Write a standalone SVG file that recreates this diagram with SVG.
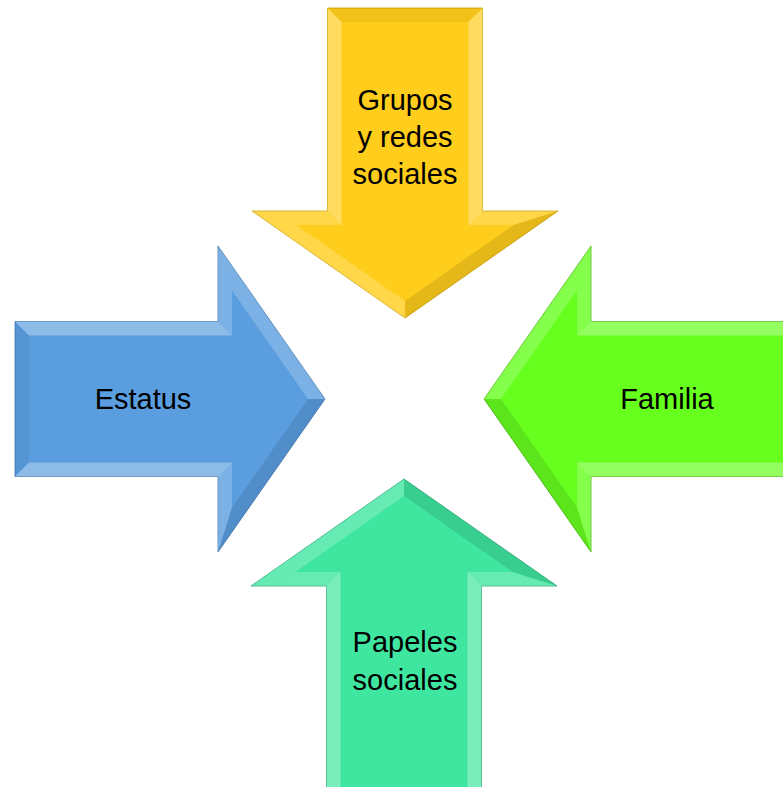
<svg xmlns="http://www.w3.org/2000/svg" width="783" height="787" viewBox="0 0 783 787">
<defs>
<style>
.lbl{font-family:"Liberation Sans",Arial,sans-serif;font-size:29px;fill:#000;text-anchor:middle}
.hi{fill:#fff;opacity:.3}
.hi2{fill:#fff;opacity:.2}
.lo{fill:#000;opacity:.1}
.lo2{fill:#000;opacity:.05}
</style>
<g id="head">
<polygon class="hi2" points="-107,-77.5 -107,-153 -93,-108.5 -93,-63.5"/>
<polygon class="hi2" points="-107,77.5 -107,153 -93,108.5 -93,63.5"/>
<polygon class="hi2" points="-107,-153 0,0 -17,0 -93,-108.5"/>
<polygon class="lo" points="-107,153 0,0 -17,0 -93,108.5"/>
</g>
<g id="arrowShort">
<polygon points="-310,-77.5 -107,-77.5 -107,-153 0,0 -107,153 -107,77.5 -310,77.5"/>
<polygon class="hi" stroke="none" points="-310,-77.5 -107,-77.5 -93,-63.5 -296,-63.5"/>
<polygon class="hi" stroke="none" points="-310,77.5 -107,77.5 -93,63.5 -296,63.5"/>
<polygon class="lo2" stroke="none" points="-310,-77.5 -296,-63.5 -296,63.5 -310,77.5"/>
<use href="#head" stroke="none"/>
</g>
<g id="arrowLong">
<polygon points="-340,-77.5 -107,-77.5 -107,-153 0,0 -107,153 -107,77.5 -340,77.5"/>
<polygon class="hi" stroke="none" points="-340,-77.5 -107,-77.5 -93,-63.5 -340,-63.5"/>
<polygon class="hi" stroke="none" points="-340,77.5 -107,77.5 -93,63.5 -340,63.5"/>
<use href="#head" stroke="none"/>
</g>
</defs>
<g id="grupos">
<g transform="matrix(0,1,1,0,405,318)" fill="#FFCD1C" stroke="#C9A000" stroke-width="0.8"><use href="#arrowShort"/></g>
<text class="lbl" x="405" y="110">Grupos</text>
<text class="lbl" x="405" y="147">y redes</text>
<text class="lbl" x="405" y="184">sociales</text>
</g>
<g id="estatus">
<g transform="translate(325,399)" fill="#5B9EDF" stroke="#3F76AE" stroke-width="0.8"><use href="#arrowShort"/></g>
<text class="lbl" x="143" y="409">Estatus</text>
</g>
<g id="familia">
<g transform="translate(484,399) scale(-1,1)" fill="#66FF1E" stroke="#45B80F" stroke-width="0.8"><use href="#arrowLong"/></g>
<text class="lbl" x="667" y="409">Familia</text>
</g>
<g id="papeles">
<g transform="matrix(0,-1,1,0,404,479)" fill="#3FE6A0" stroke="#2BA873" stroke-width="0.8"><use href="#arrowLong"/></g>
<text class="lbl" x="405" y="652">Papeles</text>
<text class="lbl" x="405" y="690">sociales</text>
</g>
<g id="connectors"></g>
</svg>
